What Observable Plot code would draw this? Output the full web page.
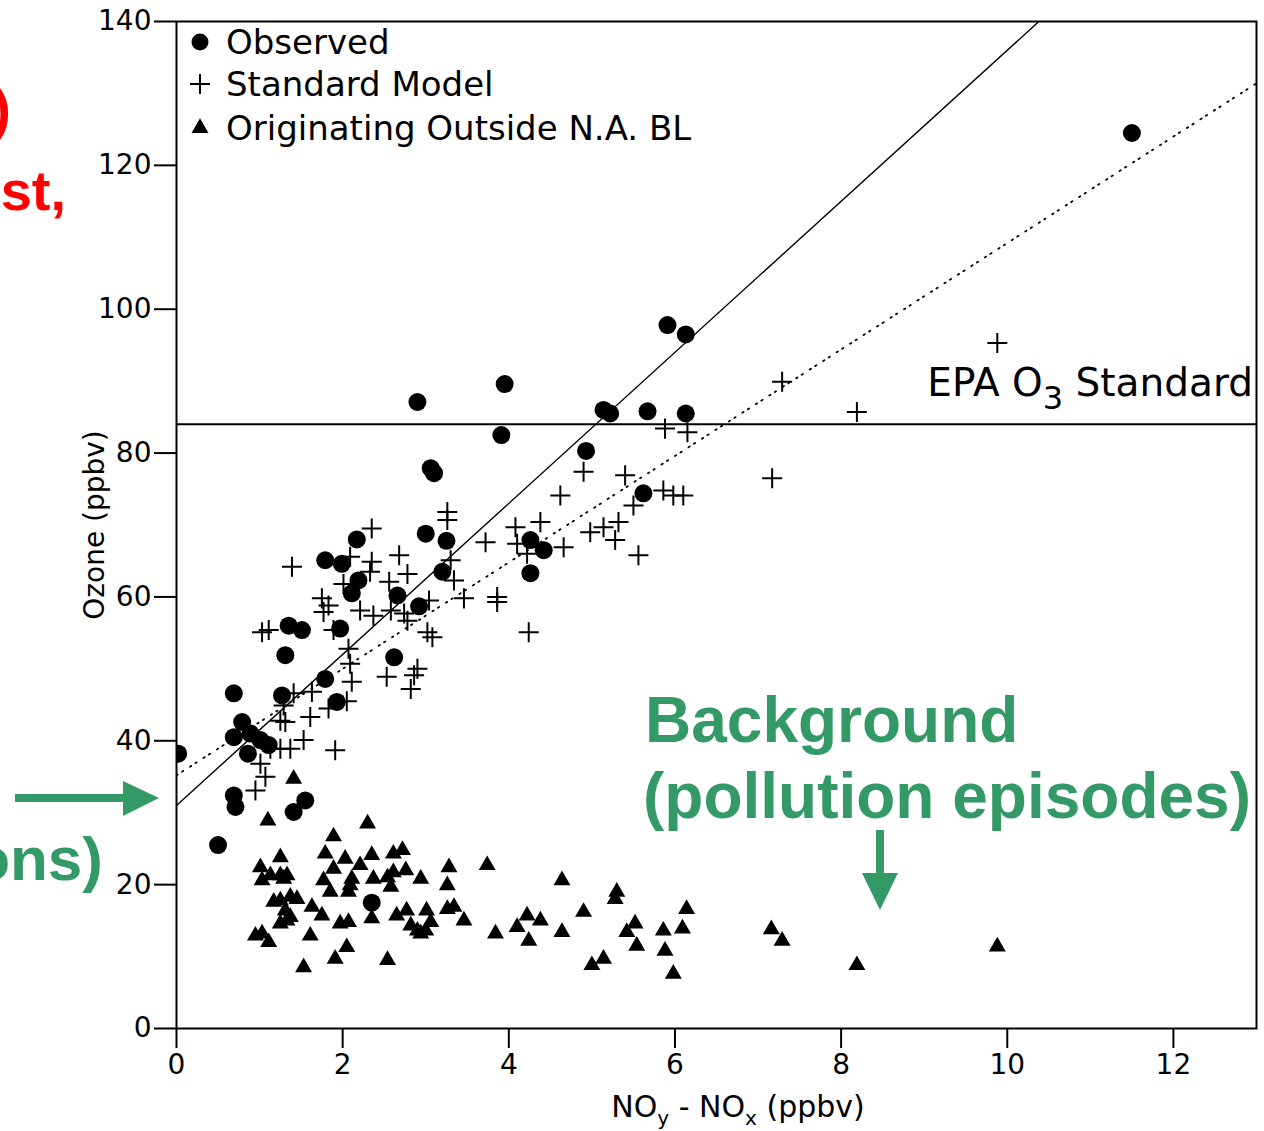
<!DOCTYPE html>
<html><head><meta charset="utf-8">
<script src="https://cdn.jsdelivr.net/npm/d3@7"></script>
<script src="https://cdn.jsdelivr.net/npm/@observablehq/plot@0.6"></script>
<style>
body{margin:0;background:#fff;}
#wrap{position:relative;width:1264px;height:1131px;overflow:hidden;background:#fff;}
</style></head><body><div id="wrap"></div>
<script>
// ---- data ----
const xTicks = [0, 2, 4, 6, 8, 10, 12];
const yTicks = [0, 20, 40, 60, 80, 100, 120, 140];
const seriesNames = ["Observed", "Standard Model", "Originating Outside N.A. BL"];
const epaStandard = 84;
const obsFit = {intercept: 31, slope: 10.5};
const modelFit = {intercept: 35.2, slope: 7.4};

const observed = [
[0.02,38.2],[0.5,25.5],[0.69,46.6],[0.69,40.5],[0.79,42.6],[0.86,38.2],[0.89,41.0],[1.01,40.1],[1.11,39.4],
[0.69,32.4],[0.71,30.8],[1.41,30.1],[1.55,31.7],[1.27,46.3],[1.31,51.9],[1.35,56.0],[1.51,55.4],[1.79,48.6],
[1.93,45.4],[1.97,55.6],[1.79,65.1],[1.99,64.6],[2.11,60.5],[2.19,62.3],[2.17,68.0],[2.62,51.6],[2.66,60.2],
[2.92,58.7],[3.0,68.8],[3.2,63.5],[3.25,67.8],[3.06,77.9],[3.1,77.2],[2.9,87.1],[3.95,89.6],[3.91,82.5],
[4.26,67.9],[4.42,66.5],[4.26,63.3],[4.93,80.3],[5.14,86.0],[5.22,85.5],[5.67,85.8],[6.13,85.5],[5.91,97.8],
[6.13,96.5],[5.62,74.4],[11.5,124.5],[2.35,17.5]
];

const model = [
[3.26,71.8],[3.26,70.7],[2.35,69.5],[1.39,64.2],[2.09,65.6],[2.35,64.9],[2.68,65.8],[2.78,63.2],[2.56,62.1],
[3.3,65.1],[3.34,62.3],[3.46,59.8],[2.33,63.5],[2.01,61.8],[1.75,59.8],[1.83,58.8],[1.77,57.9],[2.21,58.1],
[2.37,57.4],[2.58,58.1],[2.74,57.7],[2.78,56.7],[3.04,59.5],[3.02,55.1],[3.08,54.4],[1.03,55.1],[1.11,55.4],
[1.89,55.4],[2.07,52.8],[2.09,50.7],[2.11,48.2],[2.05,45.5],[1.83,44.5],[1.63,46.8],[1.61,43.3],[1.41,46.6],
[1.29,44.9],[1.25,42.8],[1.31,42.6],[2.53,48.9],[2.9,50.0],[2.86,49.1],[2.82,47.2],[1.53,40.1],[1.37,38.9],
[1.25,38.9],[1.13,38.9],[1.91,38.7],[1.01,36.8],[1.07,35.0],[0.95,33.1],
[4.9,77.4],[4.62,74.1],[5.4,76.9],[5.5,72.7],[5.86,74.8],[5.98,74.1],[6.1,74.1],[4.08,69.7],[4.1,67.4],
[4.38,70.4],[3.72,67.6],[4.66,66.9],[4.98,69.0],[5.14,69.7],[5.32,70.4],[5.28,67.9],[5.56,65.8],[4.22,66.0],
[3.86,60.0],[3.86,59.3],[4.24,55.1],[5.88,83.4],[6.15,82.9],[7.29,89.9],[7.17,76.5],[9.88,95.3],[8.19,85.7]
];

const outside = [
[1.10,28.9],[2.30,28.5],[1.89,26.7],[1.41,34.7],[1.25,23.8],[1.01,22.4],[1.13,21.3],[1.25,21.3],[1.33,21.3],
[1.03,20.6],[1.29,20.8],[1.79,24.3],[2.03,23.6],[1.89,22.2],[2.21,22.7],[2.35,24.1],[2.61,24.3],[2.72,24.8],
[2.76,22.0],[2.61,21.7],[2.37,20.8],[2.54,21.0],[2.94,20.8],[3.28,22.4],[3.26,19.9],[3.74,22.7],[1.77,20.6],
[1.85,19.0],[2.11,20.8],[2.09,19.9],[2.07,19.0],[2.58,19.7],[2.35,15.3],[1.17,17.6],[1.25,17.8],[1.37,18.3],
[1.45,18.0],[1.31,16.4],[1.37,15.5],[1.25,14.6],[1.33,15.0],[1.63,16.9],[1.75,15.7],[1.97,14.6],[2.07,14.8],
[1.61,12.9],[0.95,12.9],[1.03,13.2],[1.11,12.0],[2.05,11.3],[1.91,9.7],[1.53,8.5],[2.54,9.5],[2.65,15.7],
[2.77,16.4],[2.82,14.3],[2.9,13.6],[3.01,16.4],[3.06,14.8],[3.0,13.6],[3.26,16.6],[3.34,16.9],[3.46,15.0],
[3.84,13.2],[2.94,13.2],
[4.64,20.6],[5.3,19.0],[5.28,18.0],[4.9,16.2],[6.14,16.6],[4.1,14.1],[4.22,15.7],[4.38,15.0],[4.24,12.2],
[4.64,13.4],[5.0,8.8],[5.14,9.7],[5.42,13.4],[5.52,14.6],[5.54,11.5],[5.86,13.6],[6.09,13.9],[5.88,10.8],
[5.98,7.6],[7.16,13.8],[7.29,12.2],[8.19,8.8],[9.88,11.4]
];

// ---- chart ----
const xDomain = [0, 13];
const fitPts = f => xDomain.map(x => ({x, y: f.intercept + f.slope * x}));
const FONT = "DejaVu Sans, Liberation Sans, sans-serif";

const chart = Plot.plot({
  width: 1264, height: 1131,
  marginLeft: 176, marginRight: 8, marginTop: 21, marginBottom: 103,
  style: {fontFamily: FONT, fontSize: "28px", background: "white", color: "black", overflow: "visible"},
  x: {domain: xDomain, label: null},
  y: {domain: [0, 140], label: null},
  marks: [
    Plot.ruleY([epaStandard], {stroke: "black", strokeWidth: 2}),
    Plot.line(fitPts(obsFit), {x: "x", y: "y", stroke: "black", strokeWidth: 1.4, clip: true}),
    Plot.line(fitPts(modelFit), {x: "x", y: "y", stroke: "black", strokeWidth: 1.8, strokeDasharray: "1.5,5,1.5,8", clip: true}),
    Plot.dot(outside, {x: d => d[0], y: d => d[1], symbol: "triangle", r: 6.3, fill: "black", stroke: "none", clip: true}),
    Plot.dot(model, {x: d => d[0], y: d => d[1], symbol: "plus", r: 6.5, stroke: "black", strokeWidth: 2, clip: true}),
    Plot.dot(observed, {x: d => d[0], y: d => d[1], r: 9, fill: "black", stroke: "none", clip: true}),
    Plot.frame({stroke: "black", strokeWidth: 2}),
    Plot.axisX({ticks: xTicks, tickSize: 20, tickPadding: 6, fontSize: 28, label: null, strokeWidth: 2}),
    Plot.axisY({ticks: yTicks, tickSize: 22, tickPadding: 3, fontSize: 28, label: null, strokeWidth: 2})
  ]
});

document.getElementById("wrap").appendChild(chart);

// ---- texts & annotations ----
const svg = d3.select(chart);
const sx = chart.scale("x"), sy = chart.scale("y");

// legend
const lg = svg.append("g").attr("font-family", FONT).attr("font-size", 34).attr("text-anchor", "start");
const legendY = [42, 84, 128];
const symbolsForLegend = [d3.symbolCircle, d3.symbolPlus, d3.symbolTriangle];
const legendR = [8.5, 6.5, 6.3];
seriesNames.forEach((name, i) => {
  const p = lg.append("path")
    .attr("transform", `translate(200,${legendY[i]})`)
    .attr("d", d3.symbol(symbolsForLegend[i], Math.PI * legendR[i] * legendR[i])());
  if (i === 1) p.attr("fill", "none").attr("stroke", "black").attr("stroke-width", 2);
  else p.attr("fill", "black");
  lg.append("text").attr("text-anchor", "start").attr("x", 226).attr("y", legendY[i] + 12).text(name);
});

// EPA label
const epa = svg.append("text").attr("font-family", FONT).attr("font-size", 39)
  .attr("text-anchor", "end").attr("x", sx.apply(xDomain[1]) - 3).attr("y", sy.apply(epaStandard) - 28);
epa.append("tspan").text("EPA O");
epa.append("tspan").attr("font-size", 32).attr("dy", 13).text("3");
epa.append("tspan").attr("dy", -13).text(" Standard");

// axis labels
svg.append("text").attr("font-family", FONT).attr("font-size", 28).attr("text-anchor", "middle")
  .attr("transform", "translate(104,525) rotate(-90)").text("Ozone (ppbv)");
const xl = svg.append("text").attr("font-family", FONT).attr("font-size", 30).attr("text-anchor", "middle")
  .attr("x", 738).attr("y", 1117);
xl.append("tspan").text("NO");
xl.append("tspan").attr("font-size", 20).attr("dy", 8).text("y");
xl.append("tspan").attr("dy", -8).text(" - NO");
xl.append("tspan").attr("font-size", 20).attr("dy", 8).text("x");
xl.append("tspan").attr("dy", -8).text(" (ppbv)");

// slide annotations
const green = "#339966", red = "#ff0000";
const ann = svg.append("g").attr("font-family", "Liberation Sans, Arial, sans-serif").attr("font-weight", "bold").attr("text-anchor", "start");
ann.append("text").attr("x", 11).attr("y", 128).attr("text-anchor", "end").attr("font-size", 56).attr("fill", red).text(")");
ann.append("text").attr("x", 66).attr("y", 210).attr("text-anchor", "end").attr("font-size", 56).attr("fill", red).text("st,");
ann.append("text").attr("x", 645).attr("y", 742).attr("text-anchor", "start").attr("font-size", 64).attr("fill", green).text("Background");
ann.append("text").attr("x", 643).attr("y", 818).attr("text-anchor", "start").attr("font-size", 64).attr("fill", green).text("(pollution episodes)");
ann.append("text").attr("x", 103).attr("y", 880).attr("text-anchor", "end").attr("font-size", 62).attr("fill", green).text("ons)");
// arrows
ann.append("rect").attr("x", 15).attr("y", 794).attr("width", 112).attr("height", 8).attr("fill", green);
ann.append("polygon").attr("points", "123,781 159,798 123,816").attr("fill", green);
ann.append("rect").attr("x", 876).attr("y", 830).attr("width", 8).attr("height", 46).attr("fill", green);
ann.append("polygon").attr("points", "862,873 898,873 880,910").attr("fill", green);
</script>
</body></html>
